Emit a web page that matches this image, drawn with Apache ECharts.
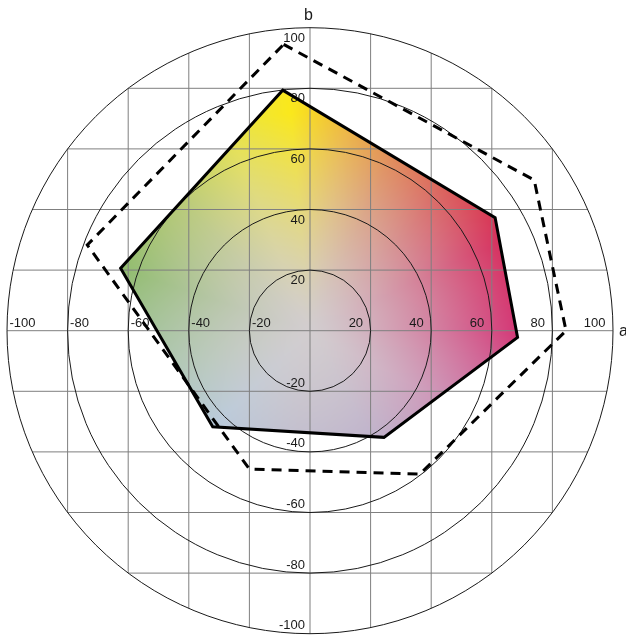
<!DOCTYPE html>
<html>
<head>
<meta charset="utf-8">
<script src="https://cdn.jsdelivr.net/npm/echarts@6/dist/echarts.min.js"></script>
<style>
html,body{margin:0;padding:0;background:#ffffff;}
#chart{width:626px;height:635px;}
</style>
</head>
<body>
<div id="chart"></div>
<script>
// ---- data ----
const ringValues = [20, 40, 60, 80, 100];
const gridValues = [-80, -60, -40, -20, 0, 20, 40, 60, 80];
const aTickValues = [-100, -80, -60, -40, -20, 20, 40, 60, 80, 100];
const aTickLabels = ['-100', '-80', '-60', '-40', '-20', '20', '40', '60', '80', '100'];
const bTickValues = [-100, -80, -60, -40, -20, 20, 40, 60, 80, 100];
const bTickLabels = ['-100', '-80', '-60', '-40', '-20', '20', '40', '60', '80', '100'];
const axisNames = ['a', 'b'];
// gamut polygons [a, b]
const gamutSolid = [[-9.0, 79.4], [61.1, 37.3], [68.5, -2.2], [24.4, -35.2], [-32.1, -31.7], [-62.5, 20.6]];
const gamutDashed = [[-8.7, 94.5], [74.0, 49.7], [84.5, 0.0], [36.3, -47.3], [-20.0, -45.7], [-73.5, 28.3]];

// ---- colour field (style) ----
const hueStops = [
  [0, [212, 45, 112]], [25, [215, 40, 88]], [45, [220, 78, 76]], [65, [228, 130, 70]],
  [80, [240, 182, 58]], [95, [250, 232, 28]], [112, [232, 228, 72]], [135, [178, 202, 96]],
  [162, [135, 186, 96]], [195, [152, 196, 162]], [225, [162, 200, 230]], [262, [172, 170, 205]],
  [300, [172, 150, 200]], [332, [202, 110, 168]], [360, [212, 45, 112]]
];
const neutral = [210, 205, 207];
function fieldColor(a, b) {
  let h = Math.atan2(b, a) * 180 / Math.PI;
  if (h < 0) h += 360;
  let i = 0;
  while (i < hueStops.length - 2 && hueStops[i + 1][0] < h) i++;
  const h0 = hueStops[i][0], c0 = hueStops[i][1];
  const h1 = hueStops[i + 1][0], c1 = hueStops[i + 1][1];
  const f = (h - h0) / (h1 - h0);
  let t = Math.min(1, Math.hypot(a, b) / 72);
  t = Math.pow(t, 1.3);
  const out = [];
  for (let k = 0; k < 3; k++) {
    const s = c0[k] + (c1[k] - c0[k]) * f;
    out.push(neutral[k] + (s - neutral[k]) * t);
  }
  return out;
}
let fieldCanvas = null;
function buildField(api) {
  if (fieldCanvas) return fieldCanvas;
  const W = api.getWidth(), H = api.getHeight();
  const o = api.coord([0, 0]);
  const ux = api.coord([1, 0])[0] - o[0];
  const uy = api.coord([0, 1])[1] - o[1];
  const cv = document.createElement('canvas');
  cv.width = W; cv.height = H;
  const ctx = cv.getContext('2d');
  const img = ctx.createImageData(W, H);
  const d = img.data;
  for (let y = 0; y < H; y++) {
    for (let x = 0; x < W; x++) {
      const a = (x + 0.5 - o[0]) / ux;
      const b = (y + 0.5 - o[1]) / uy;
      const c = fieldColor(a, b);
      const p = (y * W + x) * 4;
      d[p] = c[0]; d[p + 1] = c[1]; d[p + 2] = c[2]; d[p + 3] = 255;
    }
  }
  ctx.putImageData(img, 0, 0);
  fieldCanvas = cv;
  return cv;
}

const R = ringValues[ringValues.length - 1];
const chart = echarts.init(document.getElementById('chart'), null, { renderer: 'canvas' });
const FONT = '"Liberation Sans", Arial, Helvetica, sans-serif';

const option = {
  animation: false,
  backgroundColor: '#ffffff',
  grid: { left: 7, right: 13, top: 27.7, bottom: 1.3, containLabel: false },
  xAxis: { type: 'value', min: -100, max: 100, show: false },
  yAxis: { type: 'value', min: -100, max: 100, show: false },
  series: [
    {
      // gamut fill with colour field
      type: 'custom', silent: true, clip: false, z: 1,
      data: [[0, 0]],
      renderItem: function (params, api) {
        const cv = buildField(api);
        return {
          type: 'polygon',
          shape: { points: gamutSolid.map(p => api.coord(p)) },
          style: { fill: { image: cv, repeat: 'no-repeat' }, stroke: null }
        };
      }
    },
    {
      // grid lines clipped to the outer circle
      type: 'custom', silent: true, clip: false, z: 2,
      data: gridValues.map(v => [v, 0]),
      renderItem: function (params, api) {
        const v = api.value(0);
        const h = Math.sqrt(R * R - v * v);
        const v1 = api.coord([v, -h]), v2 = api.coord([v, h]);
        const h1 = api.coord([-h, v]), h2 = api.coord([h, v]);
        const st = { stroke: '#7f7f7f', lineWidth: 1, fill: null };
        return {
          type: 'group',
          children: [
            { type: 'line', shape: { x1: v1[0], y1: v1[1], x2: v2[0], y2: v2[1] }, style: st },
            { type: 'line', shape: { x1: h1[0], y1: h1[1], x2: h2[0], y2: h2[1] }, style: st }
          ]
        };
      }
    },
    {
      // concentric chroma rings
      type: 'custom', silent: true, clip: false, z: 3,
      data: ringValues.map(v => [v, 0]),
      renderItem: function (params, api) {
        const c = api.coord([0, 0]);
        const r = api.size([api.value(0), 0])[0];
        return {
          type: 'circle',
          shape: { cx: c[0], cy: c[1], r: r },
          style: { fill: null, stroke: '#1a1a1a', lineWidth: 1 }
        };
      }
    },
    {
      // a-axis tick labels
      type: 'custom', silent: true, clip: false, z: 4,
      data: aTickValues.map(v => [v, 0]),
      renderItem: function (params, api) {
        const v = api.value(0);
        const p = api.coord([v, 0]);
        return {
          type: 'text',
          style: {
            text: aTickLabels[params.dataIndex],
            x: v > 0 ? p[0] - 7.5 : p[0] + 2.5,
            y: p[1] - 7,
            align: v > 0 ? 'right' : 'left',
            verticalAlign: 'middle',
            font: '13px ' + FONT,
            fill: '#1a1a1a'
          }
        };
      }
    },
    {
      // b-axis tick labels
      type: 'custom', silent: true, clip: false, z: 4,
      data: bTickValues.map(v => [0, v]),
      renderItem: function (params, api) {
        const v = api.value(1);
        const p = api.coord([0, v]);
        return {
          type: 'text',
          style: {
            text: bTickLabels[params.dataIndex],
            x: p[0] - 5,
            y: v > 0 ? p[1] + 10.5 : p[1] - 8,
            align: 'right',
            verticalAlign: 'middle',
            font: '13px ' + FONT,
            fill: '#1a1a1a'
          }
        };
      }
    },
    {
      // axis names
      type: 'custom', silent: true, clip: false, z: 4,
      data: [[R, 0], [0, R]],
      renderItem: function (params, api) {
        const p = api.coord([api.value(0), api.value(1)]);
        const isA = params.dataIndex === 0;
        return {
          type: 'text',
          style: {
            text: axisNames[params.dataIndex],
            x: isA ? p[0] + 6 : p[0] - 1.5,
            y: isA ? p[1] + 0.5 : p[1] - 12.5,
            align: isA ? 'left' : 'center',
            verticalAlign: 'middle',
            font: '16px ' + FONT,
            fill: '#1a1a1a'
          }
        };
      }
    },
    {
      // gamut outlines
      type: 'custom', silent: true, clip: false, z: 5,
      data: [[0, 0], [1, 0]],
      renderItem: function (params, api) {
        const dashed = params.dataIndex === 1;
        const pts = (dashed ? gamutDashed : gamutSolid).map(p => api.coord(p));
        return {
          type: 'polygon',
          shape: { points: pts },
          style: {
            fill: null, stroke: '#000000', lineWidth: 3,
            lineDash: dashed ? [10, 7] : null, lineJoin: 'miter'
          }
        };
      }
    }
  ]
};
chart.setOption(option);
</script>
</body>
</html>
